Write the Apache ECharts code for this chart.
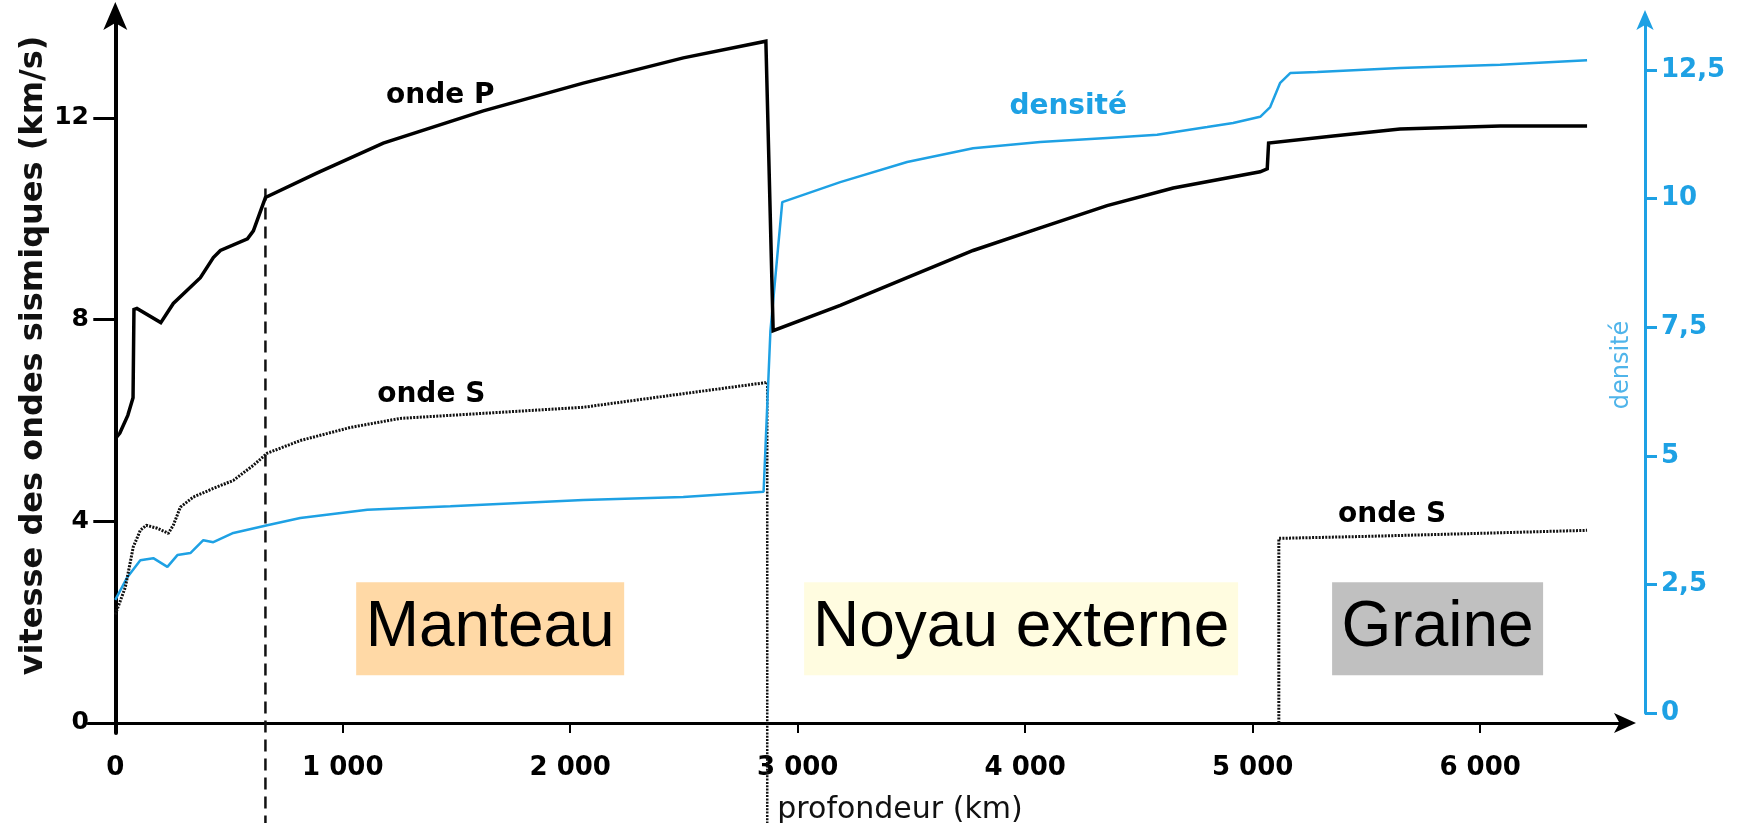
<!DOCTYPE html>
<html>
<head>
<meta charset="utf-8">
<script src="https://cdn.jsdelivr.net/npm/echarts@6/dist/echarts.min.js"></script>
<style>
html,body{margin:0;padding:0;background:#fff;}
#chart{width:1760px;height:823px;}
</style>
</head>
<body>
<div id="chart"></div>
<script>
// ---- Data ----
// Onde P : profondeur (km) / vitesse (km/s)
const depthP = [0, 20, 55, 78, 82, 95, 200, 255, 374, 431, 462, 581, 607, 660, 888, 1178, 1618, 2057, 2497, 2860,
                2892, 3187, 3481, 3771, 4066, 4360, 4651, 5033, 5064, 5070, 5354, 5648, 6088, 6470];
const speedP = [5.64, 5.75, 6.1, 6.45, 8.2, 8.22, 7.94, 8.32, 8.83, 9.23, 9.37, 9.6, 9.76, 10.42, 10.91, 11.5, 12.14, 12.69, 13.19, 13.52,
                7.78, 8.28, 8.83, 9.37, 9.82, 10.26, 10.61, 10.93, 10.99, 11.5, 11.64, 11.78, 11.84, 11.84];

// Onde S dans le manteau
const depthSMantle = [0, 44, 79, 110, 136, 185, 233, 255, 286, 343, 431, 519, 607, 668, 813, 1033, 1253, 1618, 2057, 2497, 2860];
const speedSMantle = [2.15, 2.69, 3.49, 3.82, 3.92, 3.86, 3.76, 3.92, 4.28, 4.48, 4.65, 4.81, 5.11, 5.35, 5.6, 5.86, 6.04, 6.14, 6.26, 6.53, 6.75];

// Onde S dans la graine
const depthSCore = [5115, 5115, 5500, 6000, 6470];
const speedSCore = [0, 3.66, 3.7, 3.76, 3.82];

// Densité
const depthDensity = [0, 53, 110, 167, 229, 273, 330, 387, 431, 519, 668, 813, 1108, 1473, 2057, 2497, 2850, 2880, 2932,
                      3187, 3481, 3771, 4066, 4360, 4580, 4800, 4914, 5033, 5077, 5121, 5165, 5284, 5648, 6088, 6470];
const density = [2.2, 2.64, 2.97, 3.01, 2.84, 3.07, 3.11, 3.36, 3.32, 3.5, 3.65, 3.79, 3.95, 4.02, 4.14, 4.2, 4.3, 7.43, 9.93,
                 10.32, 10.71, 10.98, 11.1, 11.18, 11.24, 11.39, 11.47, 11.59, 11.78, 12.25, 12.44, 12.46, 12.54, 12.6, 12.69];

// Discontinuités tracées en vertical
const transitionDepths = [660, 2866];
const transitionTops = [10.6, 6.75];

// Graduations
const depthTicks = [0, 1000, 2000, 3000, 4000, 5000, 6000];
const speedTicks = [0, 4, 8, 12];
const densityTicks = [0, 2.5, 5, 7.5, 10, 12.5];

// Zones
const zoneNames = ['Manteau', 'Noyau externe', 'Graine'];

// ---- Chart ----
const pairs = (xs, ys) => xs.map((x, i) => [x, ys[i]]);
const BLUE = '#1ea1e4';
const BOLD = {fontFamily: 'DejaVu Sans', fontWeight: 'bold', color: '#000'};
const fmtKm = v => String(v).replace(/\B(?=(\d{3})+$)/g, ' ');

const X_MIN = -120, X_MAX = 6650;
const G0 = {left: 88, right: 132, top: 12, bottom: 90};
const G1 = {left: 88, right: 115, top: 17, bottom: 110};
const W = 1760;
const kmPerPx = (X_MAX - X_MIN) / (W - G0.left - G0.right);
const X1_MAX = X_MIN + (W - G1.left - G1.right) * kmPerPx;

const chart = echarts.init(document.getElementById('chart'), null, {renderer: 'canvas'});

const vertical = (i, bottom) => [[transitionDepths[i], transitionTops[i]], [transitionDepths[i], bottom]];

const option = {
  animation: false,
  backgroundColor: '#ffffff',
  grid: [
    Object.assign({containLabel: false, outerBoundsMode: 'none'}, G0),
    Object.assign({containLabel: false, outerBoundsMode: 'none'}, G1)
  ],
  xAxis: [
    {
      type: 'value', gridIndex: 0, min: X_MIN, max: X_MAX,
      name: 'profondeur (km)', nameLocation: 'middle', nameGap: 62, nameMoveOverlap: false,
      nameTextStyle: {fontFamily: 'DejaVu Sans', fontSize: 30, color: '#111', padding: [0, 0, 0, 84]},
      axisLine: {onZero: true, lineStyle: {color: '#000', width: 3}, symbol: ['none', 'arrow'], symbolSize: [15, 22], symbolOffset: [0, 8]},
      axisTick: {show: true, customValues: depthTicks.slice(1), length: 10, lineStyle: {color: '#000', width: 2}},
      axisLabel: Object.assign({customValues: depthTicks, margin: 22, fontSize: 26, formatter: fmtKm}, BOLD),
      splitLine: {show: false}
    },
    {
      type: 'value', gridIndex: 1, min: X_MIN, max: X1_MAX, show: false,
      splitLine: {show: false}
    }
  ],
  yAxis: [
    {
      type: 'value', gridIndex: 0, min: -0.2, max: 14.1, position: 'left',
      name: 'vitesse des ondes sismiques (km/s)', nameLocation: 'middle', nameRotate: 90, nameGap: 38, nameMoveOverlap: false,
      nameTextStyle: {fontFamily: 'DejaVu Sans', fontWeight: 'bold', fontSize: 32, color: '#111', padding: [0, 0, 0, 34]},
      axisLine: {onZero: true, lineStyle: {color: '#000', width: 4}, symbol: ['none', 'arrow'], symbolSize: [18, 28], symbolOffset: [0, 10]},
      axisTick: {show: true, customValues: speedTicks, length: 22, lineStyle: {color: '#000', width: 3}},
      axisLabel: Object.assign({customValues: speedTicks, margin: -1, fontSize: 25}, BOLD),
      splitLine: {show: false}
    },
    {
      type: 'value', gridIndex: 1, min: 0, max: 13.53, position: 'right',
      name: 'densité', nameLocation: 'middle', nameRotate: 90, nameGap: -35, nameMoveOverlap: false,
      nameTextStyle: {fontFamily: 'DejaVu Sans', fontSize: 24, color: '#4fb4ea'},
      axisLine: {onZero: false, lineStyle: {color: BLUE, width: 3}, symbol: ['none', 'arrow'], symbolSize: [13, 20], symbolOffset: [0, 7]},
      axisTick: {show: true, customValues: densityTicks, length: 12, lineStyle: {color: BLUE, width: 3}},
      axisLabel: {customValues: densityTicks, margin: 16, fontSize: 26, fontFamily: 'DejaVu Sans', fontWeight: 'bold', color: BLUE,
                  formatter: v => String(v).replace('.', ',')},
      splitLine: {show: false}
    }
  ],
  series: [
    {
      name: 'zones', type: 'scatter', xAxisIndex: 0, yAxisIndex: 0, symbolSize: 0, z: 1, silent: true,
      itemStyle: {opacity: 1},
      data: [
        {value: [1648, 1.87], label: {formatter: zoneNames[0], backgroundColor: '#ffd9a6', width: 268, height: 93}},
        {value: [3982, 1.87], label: {formatter: zoneNames[1], backgroundColor: '#fffce0', width: 434, height: 93}},
        {value: [5813, 1.87], label: {formatter: zoneNames[2], backgroundColor: '#c0c0c0', width: 211, height: 93}}
      ],
      label: {show: true, position: 'inside', fontFamily: 'Liberation Sans', fontSize: 64, color: '#000', opacity: 1,
              lineHeight: 93, align: 'center', verticalAlign: 'middle', padding: 0}
    },
    {
      name: 'onde P', type: 'line', xAxisIndex: 0, yAxisIndex: 0, showSymbol: false, z: 5,
      data: pairs(depthP, speedP),
      lineStyle: {color: '#000', width: 3.5, join: 'miter'}
    },
    {
      name: 'onde S manteau', type: 'line', xAxisIndex: 0, yAxisIndex: 0, showSymbol: false, z: 4,
      data: pairs(depthSMantle, speedSMantle),
      lineStyle: {color: '#111', width: 3, type: [2, 1.3]}
    },
    {
      name: 'onde S graine', type: 'line', xAxisIndex: 0, yAxisIndex: 0, showSymbol: false, z: 4,
      data: pairs(depthSCore, speedSCore),
      lineStyle: {color: '#111', width: 3, type: [2, 1.3]}
    },
    {
      name: 'densité', type: 'line', xAxisIndex: 1, yAxisIndex: 1, showSymbol: false, z: 3,
      data: pairs(depthDensity, density),
      lineStyle: {color: BLUE, width: 2.5}
    },
    {
      name: '660', type: 'line', xAxisIndex: 0, yAxisIndex: 0, showSymbol: false, clip: false, z: 2,
      data: vertical(0, -2.1),
      lineStyle: {color: '#111', width: 2.5, type: [12, 7]}
    },
    {
      name: 'CMB', type: 'line', xAxisIndex: 0, yAxisIndex: 0, showSymbol: false, clip: false, z: 2,
      data: vertical(1, -2.1),
      lineStyle: {color: '#111', width: 2.5, type: [2, 1.3]}
    },
    {
      name: 'labels', type: 'scatter', xAxisIndex: 0, yAxisIndex: 0, symbolSize: 0, z: 10, silent: true,
      itemStyle: {opacity: 1},
      data: [
        {value: [1429, 12.43], label: {formatter: 'onde P'}},
        {value: [1389, 6.5], label: {formatter: 'onde S'}},
        {value: [4189, 12.22], label: {formatter: 'densité', color: BLUE}},
        {value: [5613, 4.13], label: {formatter: 'onde S'}}
      ],
      label: {show: true, position: 'inside', fontFamily: 'DejaVu Sans', fontWeight: 'bold', fontSize: 28, color: '#000', opacity: 1}
    }
  ]
};
chart.setOption(option);
</script>
</body>
</html>
